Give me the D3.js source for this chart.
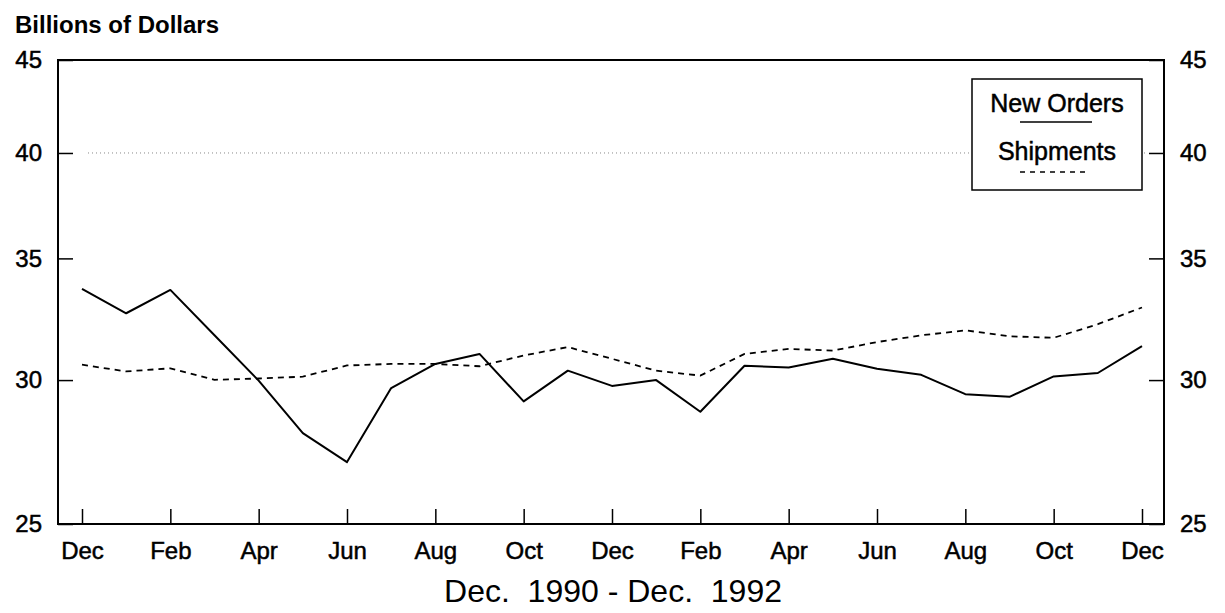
<!DOCTYPE html>
<meta charset="utf-8">
<style>
body { margin: 0; background: #fff; }
svg { display: block; font-family: "Liberation Sans", Arial, sans-serif; }
.axis text { font-size: 24px; fill: #000; stroke: #000; stroke-width: 0.5px; }
.axis line { stroke: #000; stroke-width: 1.5px; }
.axis .domain { display: none; }
.heavy { stroke: #000; stroke-width: 0.5px; }
</style>
<body>
<script src="https://d3js.org/d3.v7.min.js"></script>
<script>

// monthly values, Dec 1990 .. Dec 1992 (billions of dollars)
var months = ["Dec","Jan","Feb","Mar","Apr","May","Jun","Jul","Aug","Sep","Oct","Nov",
              "Dec","Jan","Feb","Mar","Apr","May","Jun","Jul","Aug","Sep","Oct","Nov","Dec"];
var newOrders = [33.67, 32.65, 33.63, 31.75, 29.98, 28.05, 27.04, 29.70, 30.62, 31.01, 29.20, 30.36,
                 29.78, 30.00, 28.82, 30.55, 30.48, 30.82, 30.43, 30.20, 29.47, 29.37, 30.14, 30.27, 31.32];
var shipments = [30.59, 30.33, 30.45, 30.01, 30.06, 30.13, 30.56, 30.62, 30.62, 30.53, 30.95, 31.28,
                 30.82, 30.36, 30.17, 31.01, 31.21, 31.14, 31.48, 31.75, 31.95, 31.71, 31.65, 32.20, 32.89];
var yTicks = [25, 30, 35, 40, 45];
var seriesNames = ["New Orders", "Shipments"];

var width = 1225, height = 613;
var plot = {left: 58, right: 1164, top: 60, bottom: 524};

var x = d3.scaleLinear().domain([0, months.length - 1]).range([82, 1142]);
var y = d3.scaleLog().domain([25, 45]).range([plot.bottom, plot.top]);

var svg = d3.select("body").append("svg")
    .attr("width", width)
    .attr("height", height);

// dotted grid line at 40
svg.append("line")
    .attr("x1", plot.left + 30).attr("x2", plot.right - 16)
    .attr("y1", y(40)).attr("y2", y(40))
    .attr("stroke", "#888").attr("stroke-width", 1)
    .attr("stroke-dasharray", "1,3");

// frame
svg.append("rect")
    .attr("x", plot.left).attr("y", plot.top)
    .attr("width", plot.right - plot.left)
    .attr("height", plot.bottom - plot.top)
    .attr("fill", "none").attr("stroke", "#000").attr("stroke-width", 2);

// left + right axes
svg.append("g").attr("class", "axis")
    .attr("transform", "translate(" + plot.left + ",0)")
    .call(d3.axisLeft(y).tickValues(yTicks).tickFormat(d3.format("d")).tickSize(-15).tickPadding(16));

svg.append("g").attr("class", "axis")
    .attr("transform", "translate(" + plot.right + ",0)")
    .call(d3.axisRight(y).tickValues(yTicks).tickFormat(d3.format("d")).tickSize(-15).tickPadding(16));

// bottom axis, label every other month
svg.append("g").attr("class", "axis")
    .attr("transform", "translate(0," + plot.bottom + ")")
    .call(d3.axisBottom(x)
        .tickValues(d3.range(0, months.length, 2))
        .tickFormat(function(i) { return months[i]; })
        .tickSize(-15).tickPadding(18));

// lines
var line = d3.line()
    .x(function(d, i) { return x(i); })
    .y(function(d) { return y(d); });

svg.append("path")
    .datum(shipments)
    .attr("fill", "none").attr("stroke", "#000")
    .attr("stroke-width", 1.8)
    .attr("stroke-dasharray", "6,5")
    .attr("d", line);

svg.append("path")
    .datum(newOrders)
    .attr("fill", "none").attr("stroke", "#000")
    .attr("stroke-width", 2)
    .attr("stroke-linejoin", "round")
    .attr("d", line);

// legend
var lg = svg.append("g");
lg.append("rect")
    .attr("x", 972).attr("y", 79).attr("width", 170).attr("height", 111)
    .attr("fill", "#fff").attr("stroke", "#000").attr("stroke-width", 1.5);
lg.append("text").attr("class", "heavy").attr("x", 1057).attr("y", 112).attr("text-anchor", "middle")
    .style("font-size", "25px").text(seriesNames[0]);
lg.append("line").attr("x1", 1020).attr("x2", 1092).attr("y1", 122).attr("y2", 122)
    .attr("stroke", "#000").attr("stroke-width", 1.5);
lg.append("text").attr("class", "heavy").attr("x", 1057).attr("y", 160).attr("text-anchor", "middle")
    .style("font-size", "25px").text(seriesNames[1]);
lg.append("line").attr("x1", 1020).attr("x2", 1090).attr("y1", 172).attr("y2", 172)
    .attr("stroke", "#000").attr("stroke-width", 1.5).attr("stroke-dasharray", "5,5");

// titles
svg.append("text").attr("x", 15).attr("y", 33)
    .style("font-size", "24px").style("font-weight", "bold")
    .text("Billions of Dollars");

svg.append("text").attr("x", 613).attr("y", 602).attr("text-anchor", "middle")
    .style("font-size", "32px").style("white-space", "pre")
    .attr("xml:space", "preserve")
    .text("Dec.  1990 - Dec.  1992");

</script>
</body>
